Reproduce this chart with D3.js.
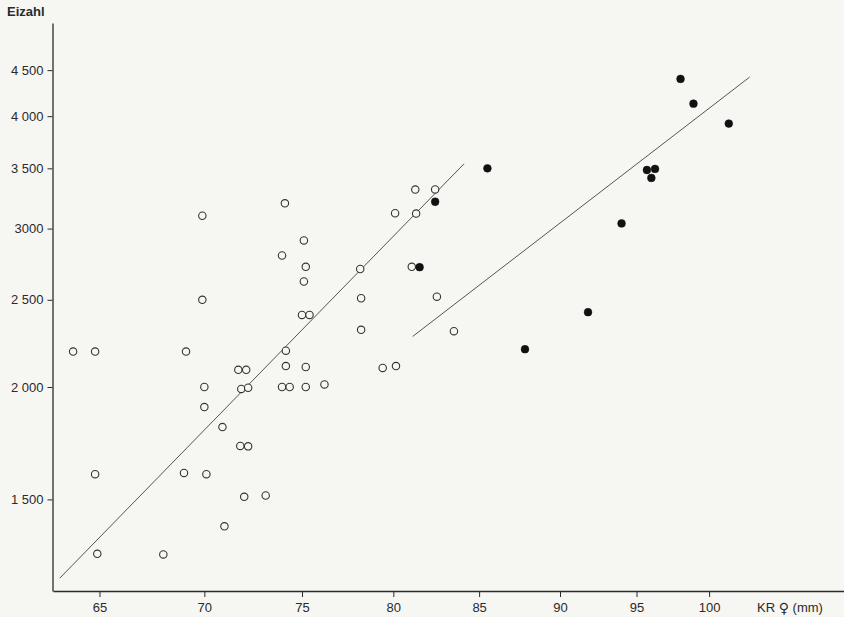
<!DOCTYPE html>
<html>
<head>
<meta charset="utf-8">
<script src="https://cdn.jsdelivr.net/npm/d3@7"></script>
<style>
  html, body { margin: 0; padding: 0; background: #f6f6f3; }
  svg { display: block; }
  text { font-family: "Liberation Sans", Arial, sans-serif; fill: #2a2a2a; }
</style>
</head>
<body>
<svg id="chart" width="844" height="617"></svg>
<script>
// Kopf-Rumpf-Länge (mm) der Weibchen gegen Eizahl, doppelt logarithmisch
const openKR = [63.8, 64.8, 69.1, 69.9, 69.9, 70.0, 70.0, 70.9, 71.8, 72.2,
  64.8, 69.0, 70.1, 72.0, 73.1, 71.0, 64.9, 68.0, 71.7, 72.1,
  71.85, 72.2, 74.1, 73.95, 74.15, 74.15, 73.95, 74.35, 75.1, 75.2,
  75.1, 75.0, 75.4, 75.2, 75.2, 76.2, 78.15, 78.2, 78.2, 79.4,
  80.15, 80.1, 81.25, 82.4, 81.3, 81.05, 82.5, 83.5];
const openEggs = [2190, 2190, 2190, 3100, 2500, 2000, 1900, 1805, 1720, 1718,
  1600, 1605, 1600, 1510, 1515, 1400, 1305, 1303, 2090, 2090,
  1990, 1996, 3200, 2800, 2195, 2110, 2000, 2000, 2910, 2720,
  2620, 2405, 2405, 2105, 2000, 2013, 2705, 2510, 2315, 2100,
  2110, 3120, 3315, 3316, 3117, 2720, 2520, 2307];

const filledKR = [98.0, 98.9, 101.4, 85.5, 95.7, 96.25, 96.0, 82.4, 94.0, 81.5, 91.8, 87.8];
const filledEggs = [4400, 4130, 3925, 3500, 3485, 3495, 3415, 3213, 3040, 2718, 2422, 2203];

// Regressionsgeraden (Endpunkte)
const lineOpenKR = [63.2, 84.1];
const lineOpenEggs = [1226, 3541];
const lineFilledKR = [81.1, 102.9];
const lineFilledEggs = [2276, 4420];

const xTicks = [65, 70, 75, 80, 85, 90, 95, 100];
const yTicks = [1500, 2000, 2500, 3000, 3500, 4000, 4500];
const yTickLabels = ["1 500", "2 000", "2 500", "3000", "3 500", "4 000", "4 500"];

const svg = d3.select("#chart");
const bg = "#f6f6f3";
const ink = "#2a2a2a";

const x = d3.scaleLog().domain([62.9, 110]).range([53, 844]);
const y = d3.scaleLog().domain([1186.5, 5077]).range([591, 23]);

// x axis
const xAxis = svg.append("g")
  .attr("transform", "translate(0,591)")
  .call(d3.axisBottom(x).tickValues(xTicks).tickFormat(d3.format("d"))
    .tickSize(6).tickSizeOuter(0).tickPadding(6));
xAxis.select(".domain").attr("stroke", ink).attr("stroke-width", 1.3);
xAxis.selectAll(".tick line").attr("stroke", ink).attr("stroke-width", 1);
xAxis.selectAll(".tick text").attr("font-size", 13).attr("fill", ink)
  .attr("font-family", "'Liberation Sans', Arial, sans-serif");

// y axis
const yAxis = svg.append("g")
  .attr("transform", "translate(52.5,0)")
  .call(d3.axisLeft(y).tickValues(yTicks)
    .tickFormat((d, i) => yTickLabels[i]).tickSize(5).tickSizeOuter(0).tickPadding(4));
yAxis.select(".domain").attr("stroke", ink).attr("stroke-width", 1.3);
yAxis.selectAll(".tick line").attr("stroke", ink).attr("stroke-width", 1);
yAxis.selectAll(".tick text").attr("font-size", 13).attr("fill", ink)
  .attr("font-family", "'Liberation Sans', Arial, sans-serif");

// axis titles
svg.append("text").attr("x", 7).attr("y", 16)
  .attr("font-size", 13).attr("font-weight", "bold").text("Eizahl");
const xTitle = svg.append("text").attr("x", 757).attr("y", 612).attr("font-size", 13);
xTitle.append("tspan").text("KR ");
xTitle.append("tspan").attr("font-family", "'DejaVu Sans', sans-serif")
  .attr("font-size", 14).attr("dy", 1).text("♀");
xTitle.append("tspan").attr("dy", -1).text(" (mm)");

// regression lines
const line = d3.line().x(d => x(d[0])).y(d => y(d[1]));
svg.append("path")
  .datum(d3.zip(lineOpenKR, lineOpenEggs))
  .attr("d", line).attr("fill", "none").attr("stroke", "#555").attr("stroke-width", 1);
svg.append("path")
  .datum(d3.zip(lineFilledKR, lineFilledEggs))
  .attr("d", line).attr("fill", "none").attr("stroke", "#555").attr("stroke-width", 1);

// open circles
svg.append("g").selectAll("circle")
  .data(d3.zip(openKR, openEggs))
  .join("circle")
  .attr("cx", d => x(d[0])).attr("cy", d => y(d[1]))
  .attr("r", 3.7)
  .attr("fill", bg).attr("stroke", "#333").attr("stroke-width", 1.1);

// filled circles
svg.append("g").selectAll("circle")
  .data(d3.zip(filledKR, filledEggs))
  .join("circle")
  .attr("cx", d => x(d[0])).attr("cy", d => y(d[1]))
  .attr("r", 3.9)
  .attr("fill", "#111").attr("stroke", "#111").attr("stroke-width", 0.5);
</script>
</body>
</html>
